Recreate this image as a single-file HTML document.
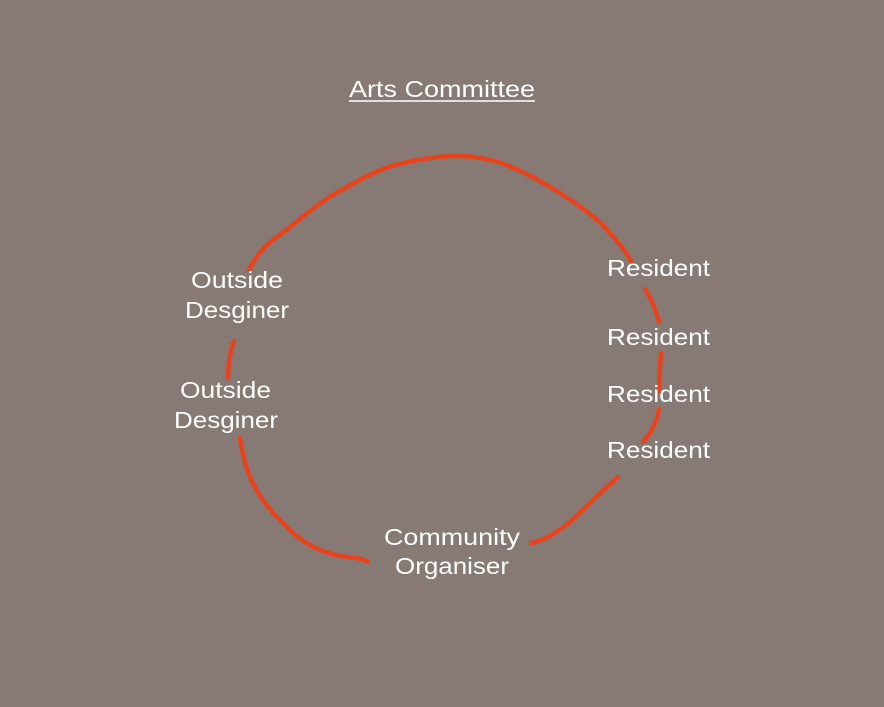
<!DOCTYPE html>
<html><head><meta charset="utf-8"><style>
html,body{margin:0;padding:0;background:#877a75;}
svg{display:block;}
text{font-family:"Liberation Sans",sans-serif;fill:#fff;font-size:23px;}
</style></head><body>
<svg width="884" height="707" viewBox="0 0 884 707">
<rect width="884" height="707" fill="#877a75"/>
<g fill="none" stroke="#e8431d" stroke-width="4.5" stroke-linecap="round" stroke-linejoin="round">
<path d="M249,270 C258,250 272,240 288,229 C310,210 330,195 349,186 C366,176 382,168 399,164 C420,159 438,156 456,156 C475,156 492,159 509,166 C528,174 545,183 563,195 C580,206 597,218 609,232 C620,244 628,255 632,263"/>
<path d="M234,341 C230,352 228,365 228,378"/>
<path d="M240,438 C244,470 256,497 280,520 C300,542 320,555 356,558 C362,559 366,560 368,562"/>
<path d="M531,543 C545,540 556,533 570,522 C585,508 600,493 618,477"/>
<path d="M645,289 C652,300 656,310 659,322"/>
<path d="M661,353 C660,366 659,380 659,392"/>
<path d="M659,409 C657,420 652,432 643,442"/>
</g>
<text x="349" y="97" textLength="186" lengthAdjust="spacingAndGlyphs">Arts Committee</text>
<line x1="349" y1="101" x2="535" y2="101" stroke="#fff" stroke-width="1.5"/>
<text x="191" y="288" textLength="92" lengthAdjust="spacingAndGlyphs">Outside</text>
<text x="185" y="318" textLength="104" lengthAdjust="spacingAndGlyphs">Desginer</text>
<text x="180" y="398" textLength="91" lengthAdjust="spacingAndGlyphs">Outside</text>
<text x="174" y="428" textLength="104" lengthAdjust="spacingAndGlyphs">Desginer</text>
<text x="607" y="276" textLength="103" lengthAdjust="spacingAndGlyphs">Resident</text>
<text x="607" y="345" textLength="103" lengthAdjust="spacingAndGlyphs">Resident</text>
<text x="607" y="402" textLength="103" lengthAdjust="spacingAndGlyphs">Resident</text>
<text x="607" y="458" textLength="103" lengthAdjust="spacingAndGlyphs">Resident</text>
<text x="384" y="545" textLength="136" lengthAdjust="spacingAndGlyphs">Community</text>
<text x="395" y="574" textLength="114" lengthAdjust="spacingAndGlyphs">Organiser</text>
</svg>
</body></html>
